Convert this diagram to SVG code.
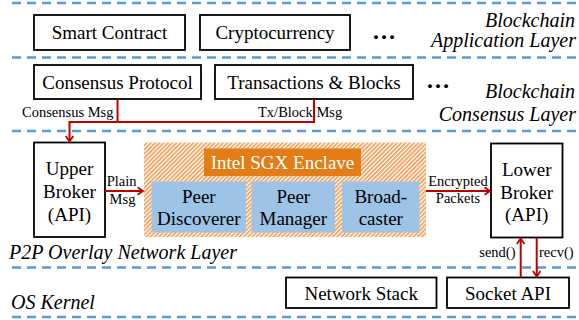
<svg xmlns="http://www.w3.org/2000/svg" width="579" height="320" viewBox="0 0 579 320">
<style>
.sep{stroke:#5B9BD5;stroke-width:2.5;stroke-dasharray:9 6;fill:none}
.box{fill:#fff;stroke:#000;stroke-width:1.8}
.t{font-family:"Liberation Serif","Times New Roman",serif;font-size:19px;fill:#000;text-anchor:middle}
.w{fill:#fff}
.s{font-family:"Liberation Serif","Times New Roman",serif;font-size:14.5px;fill:#000}
.layer{font-family:"Liberation Serif","Times New Roman",serif;font-size:20px;font-style:italic;fill:#000}
.r{text-anchor:end}
.dots{font-family:"Liberation Serif","Times New Roman",serif;font-size:24px;font-weight:bold;fill:#000}
.blue{fill:#9DC3E6}
.conn{stroke:#C00000;stroke-width:2;fill:none}
</style>
<defs>
<pattern id="hatch" width="3" height="3" patternUnits="userSpaceOnUse" patternTransform="rotate(45)">
<rect width="3" height="3" fill="#fff"/>
<rect width="1.6" height="3" fill="#F29A4E"/>
</pattern>
<marker id="arr" viewBox="-1 -5 8 10" markerWidth="8" markerHeight="10" refX="5.5" refY="0" orient="auto" markerUnits="userSpaceOnUse">
<path d="M0,-3.8 L5.5,0 L0,3.8" fill="none" stroke="#C00000" stroke-width="1.8"/>
</marker>
</defs>
<g id="separators">
<line class="sep" x1="12" y1="3" x2="578" y2="3"/>
<line class="sep" x1="12" y1="57.5" x2="578" y2="57.5"/>
<line class="sep" x1="12" y1="131" x2="578" y2="131"/>
<line class="sep" x1="12" y1="267.5" x2="578" y2="267.5"/>
<line class="sep" x1="12" y1="317" x2="578" y2="317"/>
</g>
<g id="layer-labels">
<text class="layer r" x="575" y="27">Blockchain</text>
<text class="layer r" x="576" y="46.5">Application Layer</text>
<text class="layer r" x="575" y="98">Blockchain</text>
<text class="layer r" x="576" y="121">Consensus Layer</text>
<text class="layer" x="9" y="259">P2P Overlay Network Layer</text>
<text class="layer" x="11" y="309">OS Kernel</text>
</g>
<g id="smart-contract"><rect class="box" x="34" y="15" width="151" height="35"/><text class="t" x="109.5" y="39">Smart Contract</text></g>
<g id="cryptocurrency"><rect class="box" x="200" y="15" width="150" height="35"/><text class="t" x="275" y="39">Cryptocurrency</text></g>
<text class="dots" x="372" y="39">…</text>
<g id="consensus-protocol"><rect class="box" x="34" y="65" width="167" height="34"/><text class="t" x="117.5" y="88.5">Consensus Protocol</text></g>
<g id="transactions-blocks"><rect class="box" x="215" y="65" width="198" height="34"/><text class="t" x="314" y="88.5">Transactions &amp; Blocks</text></g>
<text class="dots" x="426" y="88">…</text>
<g id="upper-broker"><rect class="box" x="34" y="142.5" width="71" height="94.5" stroke-width="2"/>
<text class="t" x="69.5" y="175">Upper</text><text class="t" x="69.5" y="198">Broker</text><text class="t" x="69.5" y="221">(API)</text></g>
<g id="sgx-enclave">
<rect x="144" y="142.5" width="282" height="94.5" fill="url(#hatch)"/>
<rect x="204" y="148.5" width="157" height="27.5" fill="#E27D17"/>
<text class="t w" x="282.5" y="169">Intel SGX Enclave</text>
</g>
<g id="peer-discoverer"><rect class="blue" x="151.5" y="181.5" width="94.5" height="51"/><text class="t" x="198.8" y="203">Peer</text><text class="t" x="198.8" y="225">Discoverer</text></g>
<g id="peer-manager"><rect class="blue" x="251.5" y="181.5" width="83.5" height="51"/><text class="t" x="293.3" y="203">Peer</text><text class="t" x="293.3" y="225">Manager</text></g>
<g id="broadcaster"><rect class="blue" x="342" y="181.5" width="77.5" height="51"/><text class="t" x="380.8" y="203">Broad-</text><text class="t" x="380.8" y="225">caster</text></g>
<g id="lower-broker"><rect class="box" x="491" y="143.5" width="71.5" height="94" stroke-width="2"/>
<text class="t" x="526.7" y="175.5">Lower</text><text class="t" x="526.7" y="198.5">Broker</text><text class="t" x="526.7" y="221">(API)</text></g>
<g id="network-stack"><rect class="box" x="286" y="277.5" width="150.5" height="30.5"/><text class="t" x="361.2" y="299.5">Network Stack</text></g>
<g id="socket-api"><rect class="box" x="447" y="277.5" width="122" height="30.5"/><text class="t" x="508" y="299.5">Socket API</text></g>
<g id="connectors">
<path class="conn" d="M117.5,99 V122"/>
<path class="conn" d="M314,99 V122 H69.5 V141.5" marker-end="url(#arr)"/>
<path class="conn" d="M105,191 H143" marker-end="url(#arr)"/>
<path class="conn" d="M426,191 H490" marker-end="url(#arr)"/>
<path class="conn" d="M520.7,277.5 V238.5" marker-end="url(#arr)"/>
<path class="conn" d="M536.7,237.5 V276.5" marker-end="url(#arr)"/>
<text class="s" x="22" y="117">Consensus Msg</text>
<text class="s" x="258" y="117">Tx/Block Msg</text>
<text class="s" x="121.7" y="186" text-anchor="middle">Plain</text>
<text class="s" x="122.5" y="204" text-anchor="middle">Msg</text>
<text class="s" x="458" y="185.5" text-anchor="middle">Encrypted</text>
<text class="s" x="458" y="203" text-anchor="middle">Packets</text>
<text class="s" x="515.5" y="256.5" text-anchor="end">send()</text>
<text class="s" x="539" y="256.5">recv()</text>
</g>
</svg>
